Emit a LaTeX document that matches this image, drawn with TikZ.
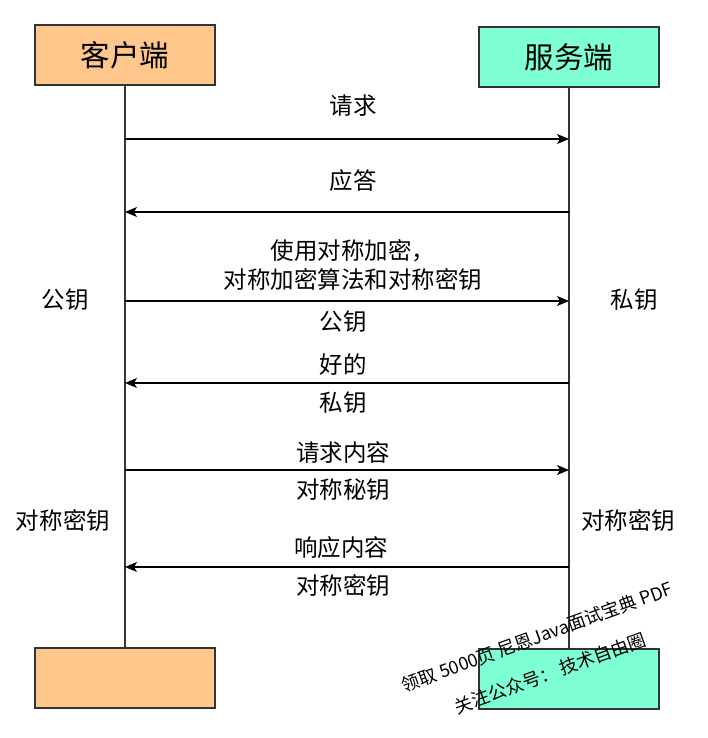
\documentclass[tikz,border=0pt]{standalone}
\usepackage{fontspec}
\setmainfont{Noto Sans CJK SC}
\usetikzlibrary{arrows.meta}
\definecolor{clientfill}{RGB}{255,199,140}
\definecolor{serverfill}{RGB}{127,255,212}
\definecolor{linegray}{RGB}{51,51,51}
\begin{document}
\begin{tikzpicture}[x=1pt,y=-1pt,
  box/.style={draw=linegray,line width=1.5pt,minimum width=180pt,minimum height=60pt,inner sep=0pt,font=\fontsize{29.5}{34}\selectfont},
  lifeline/.style={draw=linegray,line width=1.5pt},
  msg/.style={draw=black,line width=1.2pt,-{Stealth[length=12pt,width=10pt,inset=3pt]}},
  lbl/.style={inner sep=0pt,font=\fontsize{23.5}{28}\selectfont},
  wm/.style={inner sep=0pt,rotate=20,font=\fontsize{18}{22}\selectfont}]
\useasboundingbox (0,0) rectangle (708,738);
% boxes
\node[box,fill=clientfill] (ctop) at (125,55) {客户端};
\node[box,fill=serverfill] (stop) at (569,57) {服务端};
\node[box,fill=clientfill] (cbot) at (125,678) {};
\node[box,fill=serverfill] (sbot) at (569,679) {};
% lifelines
\draw[lifeline] (ctop.south) -- (cbot.north);
\draw[lifeline] (stop.south) -- (sbot.north);
% anchor points
\foreach \i/\y in {1/139,2/212,3/301,4/383,5/470,6/567}{
  \coordinate (c\i) at (125,\y);
  \coordinate (s\i) at (569,\y);
}
% messages
\draw[msg] (c1) -- (s1);
\draw[msg] (s2) -- (c2);
\draw[msg] (c3) -- (s3);
\draw[msg] (s4) -- (c4);
\draw[msg] (c5) -- (s5);
\draw[msg] (s6) -- (c6);
% labels
\node[lbl] (t1) at (353,106) {请求};
\node[lbl] (t2) at (353,181) {应答};
\node[lbl] (t3a) at (353,251) {使用对称加密，};
\node[lbl] (t3b) at (353,280) {对称加密算法和对称密钥};
\node[lbl] (t3c) at (343,322) {公钥};
\node[lbl] (t4a) at (343,365) {好的};
\node[lbl] (t4b) at (343,403) {私钥};
\node[lbl] (t5a) at (343,453) {请求内容};
\node[lbl] (t5b) at (343,490) {对称秘钥};
\node[lbl] (t6a) at (341,548) {响应内容};
\node[lbl] (t6b) at (343,586) {对称密钥};
\node[lbl] (l1) at (65,300) {公钥};
\node[lbl] (r1) at (634,300) {私钥};
\node[lbl] (l2) at (63,521) {对称密钥};
\node[lbl] (r2) at (628,521) {对称密钥};
% watermark
\node[wm] (w1) at (537,637) {领取 5000页 尼恩Java面试宝典 PDF};
\node[wm] (w2) at (550,673) {关注公众号： 技术自由圈};
\end{tikzpicture}
\end{document}
